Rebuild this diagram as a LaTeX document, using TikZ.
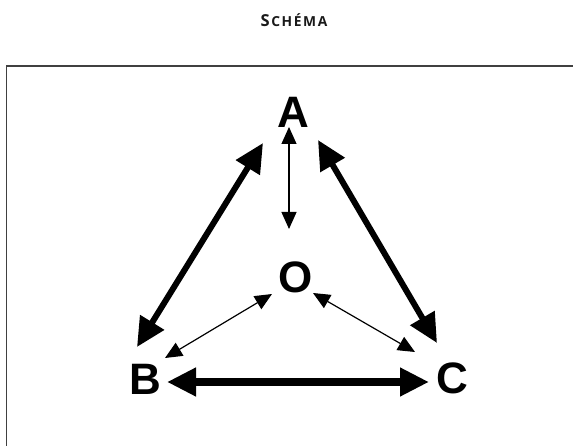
\documentclass[tikz,border=0pt]{standalone}
\usepackage{fontspec}
\setmainfont{Liberation Sans}
\newfontfamily\titlefont{Open Sans}
\usetikzlibrary{arrows.meta}
\newcommand{\tsp}{\kern1.6pt}
\begin{document}
\begin{tikzpicture}[x=1pt,y=-1pt,
  letter/.style={inner sep=0pt,font=\fontsize{44}{44}\selectfont\bfseries},
  thickarr/.style={line width=6pt,{Triangle[length=29pt,width=27pt]}-{Triangle[length=29pt,width=27pt]}},
  thinarr/.style={line width=1.2pt,{Triangle[length=17pt,width=15pt]}-{Triangle[length=17pt,width=15pt]}},
  frame/.style={draw=black!75,line width=1.3pt}]
\useasboundingbox (0,0) rectangle (573,446);
\node[inner sep=0pt,anchor=base,font=\titlefont\bfseries,text=black!90] (title) at (294,27)
  {{\fontsize{16.5}{17}\selectfont S}\tsp{\fontsize{13.8}{14}\selectfont C\tsp H\tsp É\tsp M\tsp A}};
\draw[frame] (6.5,446) -- (6.5,66) -- (573,66);
\node[letter] (A) at (293.5,112.5) {A};
\node[letter] (O) at (296,277) {O};
\node[letter] (B) at (145,379) {B};
\node[letter] (C) at (452,378) {C};
\draw[thinarr] ([shift={(-4.5,14.5)}]A.center) -- ([shift={(-7,-48)}]O.center);
\draw[thickarr] ([shift={(-30.5,30.5)}]A.center) -- ([shift={(-8,-32)}]B.center);
\draw[thickarr] ([shift={(24.5,27.5)}]A.center) -- ([shift={(-15,-35)}]C.center);
\draw[thickarr,line width=7.5pt] ([shift={(22,3)}]B.center) -- ([shift={(-23,4)}]C.center);
\draw[thinarr] ([shift={(-24,17)}]O.center) -- ([shift={(20,-21)}]B.center);
\draw[thinarr] ([shift={(17,16)}]O.center) -- ([shift={(-37,-26)}]C.center);
\end{tikzpicture}
\end{document}
